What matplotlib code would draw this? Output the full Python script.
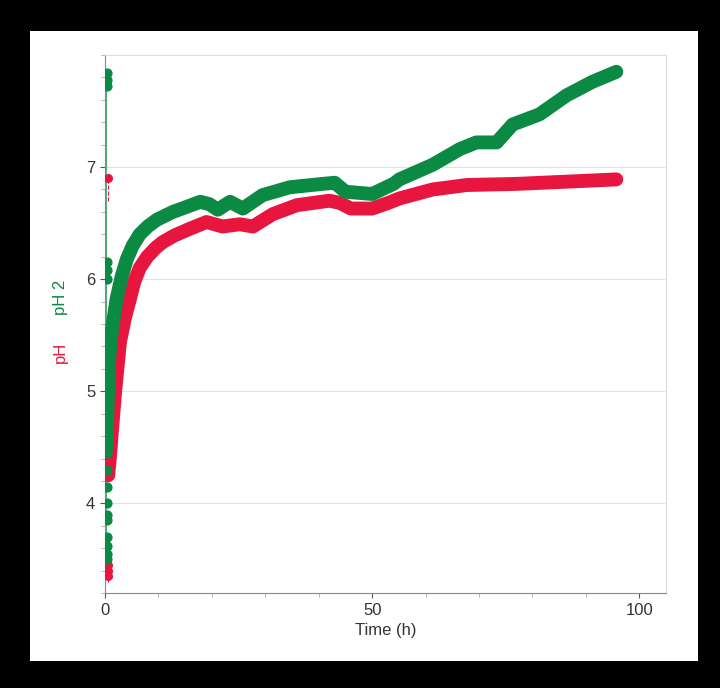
import matplotlib
matplotlib.use("Agg")
import matplotlib.pyplot as plt
from matplotlib.patches import Rectangle
from matplotlib.ticker import MultipleLocator

plt.rcParams['font.family'] = ['Liberation Sans', 'DejaVu Sans']

# main pH curve (red)
t_ph = [0.6, 0.9, 1.3, 1.9, 2.8, 3.7, 4.7, 5.5, 6.5, 7.9, 9.5, 10.8, 13.0, 15.9, 19.0,
        22.0, 25.2, 27.7, 31.4, 35.9, 42.0, 44.0, 46.0, 50.0, 53.0, 55.1, 61.3,
        67.7, 77.0, 86.4, 95.7]
ph = [4.25, 4.4, 4.65, 5.0, 5.44, 5.65, 5.83, 5.98, 6.1, 6.2, 6.28, 6.33, 6.39, 6.45, 6.51,
      6.47, 6.49, 6.47, 6.58, 6.66, 6.70, 6.68, 6.63, 6.63, 6.68, 6.72, 6.80,
      6.84, 6.85, 6.87, 6.89]

# pH 2 curve (green)
t_ph2 = [0.3, 0.5, 0.8, 1.3, 2.2, 3.1, 4.1, 5.2, 6.5, 8.0, 9.7, 12.7, 15.0, 17.8, 19.5, 21.1,
         23.4, 25.8, 29.5, 34.6, 40.7, 43.0, 45.0, 50.0, 54.0, 55.1, 61.3, 66.4,
         69.5, 73.3, 76.3, 81.3, 86.4, 91.2, 95.7]
ph2 = [4.5, 4.9, 5.3, 5.55, 5.83, 6.02, 6.18, 6.3, 6.40, 6.47, 6.53, 6.60, 6.64, 6.69, 6.67,
       6.62, 6.69, 6.63, 6.75, 6.82, 6.85, 6.86, 6.78, 6.76, 6.85, 6.89, 7.02, 7.16,
       7.22, 7.22, 7.38, 7.47, 7.64, 7.76, 7.85]

# start-up readings stacked on the y axis
t_start2 = [0.3] * 16
ph_start2 = [7.72, 7.78, 7.84, 6.0, 6.08, 6.15, 4.3, 4.15, 4.0, 3.9, 3.85, 3.7, 3.62,
             3.55, 3.5, 4.45]
t_start1 = [0.5] * 4
ph_start1 = [3.35, 3.4, 3.45, 6.9]

red = "#e8163f"
green = "#0b8a43"

fig = plt.figure(figsize=(7.2, 6.88), dpi=100, facecolor="black")
fig.patches.append(Rectangle((30 / 720, 1 - 661 / 688), 668 / 720, 630 / 688,
                             transform=fig.transFigure, facecolor="white",
                             edgecolor="none", zorder=-10))
ax = fig.add_axes([105 / 720, 1 - 593 / 688, 561 / 720, 538 / 688])
ax.set_facecolor("white")

# thin traces along the axis
ax.plot([0.1, 0.1], [3.5, 7.85], color=green, lw=0.8, alpha=0.7)
ax.plot([0.5, 0.5], [6.7, 6.95], color=red, lw=0.8, ls="--")
ax.plot([0.5, 0.5], [3.3, 3.5], color=red, lw=0.8, ls="--")

ax.plot(t_ph, ph, color=red, lw=10, solid_capstyle="round", solid_joinstyle="round", zorder=3)
ax.plot(t_ph2, ph2, color=green, lw=10, solid_capstyle="round", solid_joinstyle="round", zorder=4)
ax.scatter(t_start1, ph_start1, color=red, s=30, zorder=3)
ax.scatter(t_start2, ph_start2, color=green, s=40, zorder=4)

ax.set_xlim(0, 105)
ax.set_ylim(3.2, 8.0)
ax.set_xticks([0, 50, 100])
ax.set_yticks([4, 5, 6, 7])
ax.xaxis.set_minor_locator(MultipleLocator(10))
ax.yaxis.set_minor_locator(MultipleLocator(0.2))
ax.grid(True, which="major", axis="y", color="#e2e2e2", lw=0.8)
ax.set_axisbelow(True)
ax.tick_params(colors="#555555", labelcolor="#333333", labelsize=12)
ax.tick_params(which="minor", colors="#aaaaaa", length=3)
for s in ["left", "bottom"]:
    ax.spines[s].set_color("#888888")
for s in ["top", "right"]:
    ax.spines[s].set_color("#dddddd")

ax.set_xlabel("Time (h)", fontsize=12, color="#333333", labelpad=4)
fig.text(60 / 720, 1 - 352 / 688, "pH", rotation=90, color=red, fontsize=12,
         ha="center", va="center")
fig.text(60 / 720, 1 - 297 / 688, "pH 2", rotation=90, color=green, fontsize=12,
         ha="center", va="center")

fig.savefig("out.png", dpi=100, facecolor=fig.get_facecolor())
